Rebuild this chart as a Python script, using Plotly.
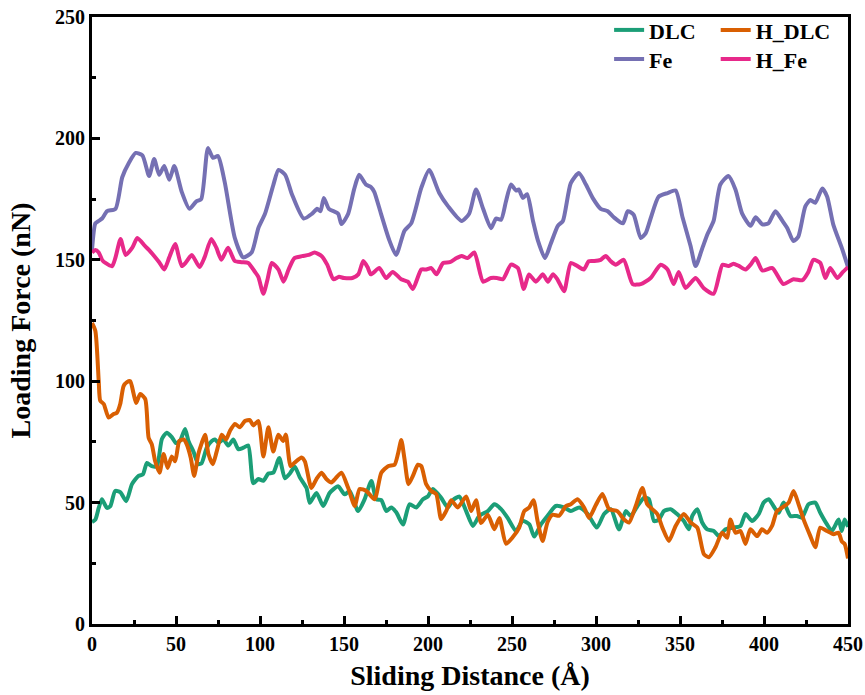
import plotly.graph_objects as go

# Loading force traces versus sliding distance for the four systems
dlc_x = [0, 2, 4, 5.9, 8.9, 10.9, 13.8, 16.8, 20.4, 23.8, 27.7, 30.3, 32.7, 35.6, 38.6, 41.6, 44.5, 47.5,
         50, 52.4, 55.4, 57.4, 60.4, 63.3, 65.3, 68.3, 71.3, 73.2, 75.2, 78.2, 81.2, 84.1, 87.1, 90.1, 93,
         96, 99, 102, 105, 107.9, 111.5, 114.8, 117.8, 120.7, 123.7, 127.7, 129.6, 133.6, 137.6, 141.5,
         146.5, 150.4, 153.4, 158.4, 162.3, 166.3, 169.2, 172.2, 175.2, 178.1, 181.1, 185.1, 189, 193, 197,
         199.9, 202.9, 207.8, 211.8, 214.8, 218.7, 222.7, 226.7, 230.6, 235.6, 239.5, 243.5, 247.4, 252.4,
         256.3, 260.3, 263.2, 267.2, 271.2, 276.1, 281, 285, 290, 295, 300.5, 304.8, 308.8, 313.7, 317.7,
         320.7, 324.6, 328.6, 331.5, 334.5, 337.5, 340.4, 344.4, 348.3, 352.3, 355.3, 357.3, 360.3, 363.2,
         366.2, 370.1, 373.1, 377.1, 382, 386, 389, 392.9, 396.9, 399.8, 402.8, 405.7, 408.7, 411.7, 415.7,
         419.6, 422.6, 426.5, 430.5, 433.5, 437.5, 440.4, 444.4, 446.3, 448, 450]
dlc_y = [42, 43, 47.8, 51.4, 47.8, 48.5, 54.8, 54.3, 50.6, 57.6, 61, 61.6, 66.3, 65, 65, 76.2, 78.8, 77,
         74.5, 75.4, 80.3, 75.4, 71, 65.8, 66.3, 72.6, 75.4, 76, 74.6, 76, 73.5, 76, 72, 72.6, 73.5,
         58, 59.7, 59, 62, 62.3, 68.4, 60, 62, 64.8, 60.4, 56, 49.9, 54, 48.6, 54,
         56.7, 53.4, 54.8, 46.5, 51.4, 58.9, 51.4, 51, 46.5, 48, 46, 41, 49.3, 48, 51.4,
         52.5, 55.6, 52, 48, 51, 52.5, 46.5, 40.4, 44.6, 46.5, 49.3, 47.3, 43.7, 38.3,
         42.5, 41, 36, 41, 44.6, 48.6, 48, 46.5, 48, 45.4, 39.7, 45.3, 47.3, 39, 46.5,
         44.5, 48.5, 52, 51.4, 42.4, 43, 46.5, 47.3, 45.3, 42.4, 39, 44.5, 47.3, 41.8,
         39, 38.3, 36.2, 39, 39.7, 40.4, 45.3, 42.4, 45.3, 50, 51.4, 48.5, 45.8, 50, 44.5,
         44.5, 43.8, 49.3, 50, 45.8, 41, 38.3, 43, 38.3, 43, 40]

hdlc_x = [0, 2, 4, 4.9, 7, 9.9, 12.9, 14.8, 16.8, 18.8, 20.8, 22.8, 24.7, 26.3, 28.7, 31.7, 33.7, 35.6,
          37.6, 40.2, 42.6, 45, 47.5, 49.5, 52, 54.5, 56.4, 58.8, 60.8, 63.3, 65.3, 67.3, 69.3, 71.9, 74.2,
          77.2, 79.8, 82.1, 85.1, 88, 91, 94, 96, 99, 102, 105, 107.9, 110.9, 113.8, 115.4, 118.2, 120.7,
          124.7, 126.7, 130.6, 133.6, 136.6, 139.5, 142.5, 145, 148.5, 152.4, 156.4, 159.3, 163.3, 168.2,
          172.2, 176.2, 180.1, 182.1, 184.1, 186, 188.4, 191, 194, 196, 198.9, 201.9, 204.9, 207.8, 210.8,
          213.8, 217.7, 222.7, 225.7, 228.6, 231.6, 235.6, 239.5, 242.5, 246.4, 250.4, 254.3, 257.3, 260.3,
          262.8, 265.2, 268.2, 271.2, 274.2, 278.1, 282.1, 285, 289, 292.9, 295.9, 299.9, 303.8, 307.8,
          312.7, 316.7, 319.7, 323.6, 327.6, 330.5, 333.5, 336.5, 339.5, 343.4, 347.4, 352.3, 356.3, 360.3,
          364.2, 367.2, 371.1, 375.1, 378.1, 380, 383, 386, 389, 391.9, 395.9, 398.8, 401.8, 404.8, 407.7,
          410.7, 414.7, 417.6, 420.6, 423.6, 427.6, 430.5, 433.5, 437.5, 441.4, 444.4, 446.3, 448, 450]
hdlc_y = [124, 120.7, 100, 92, 90.6, 85, 86.5, 87, 90.6, 98, 99.6, 100, 95, 91, 94.7, 92.6, 76.7, 74,
          67, 62.3, 70, 64.3, 69, 67, 75.4, 76, 74, 68.4, 61, 70, 74.5, 78, 70, 65.8, 71,
          78, 76, 79.5, 82.4, 81, 83.6, 84, 81.8, 83.6, 69, 81, 71, 78, 75.4, 78, 65, 66.5,
          68.6, 67, 56, 59.7, 62.3, 59.7, 58.3, 60, 62.3, 56.2, 48.6, 55.6, 54.8, 51.4,
          62.3, 65, 65.6, 70, 75.8, 68, 57.6, 61, 65.6, 65, 57.6, 54.8, 53.5, 43.2, 46.5,
          51, 48, 52.5, 46.5, 51, 41.6, 45, 39, 43.7, 33, 35.7, 39.7, 46.5, 48,
          51, 42.5, 34.2, 42, 45, 44.6, 48.6, 49.3, 51.4, 48, 43.7, 49, 53.5, 47.3,
          46.5, 43, 41.8, 48.5, 56, 49.3, 47.3, 45.3, 39.7, 34.2, 40.4, 45.3, 41.8, 39.7,
          28.8, 27.5, 31.6, 37.6, 35.5, 43, 37.6, 38.3, 33, 39, 36.2, 39, 37.6, 40.4, 46.5,
          47.9, 50, 54.8, 49.3, 43, 36.2, 31.6, 39.7, 38.3, 37, 37.6, 34, 33, 27]

fe_x = [0, 2, 4, 6, 9, 14, 18, 22, 26, 30, 34, 37, 40, 43, 46, 49, 53.4, 58, 62, 65, 69, 72, 75, 79, 85,
        90, 95, 99, 103, 108, 111, 115, 119, 126, 131, 134, 136, 138, 141, 146.5, 148.5, 152.5, 156, 159,
        163, 166, 168, 172, 177, 181, 186, 190, 196, 200.7, 206.7, 212, 220, 224.5, 228.6, 232.8, 237.5,
        240.5, 243.5, 246.4, 249.4, 252.4, 254, 256.5, 259, 262.5, 265.4, 269.6, 273, 277.3, 280.3, 285,
        289.8, 294, 298, 302.8, 307, 310.6, 316, 318.9, 322.4, 326.6, 329.6, 332.5, 337.3, 342.6, 347.4,
        351.5, 356.3, 359.3, 363.4, 366.4, 370, 374, 378.8, 383, 387, 392, 395, 399, 402.6, 406.8, 411,
        413.9, 417.5, 420.4, 424.6, 427.6, 430.5, 434.7, 437.6, 441.2, 446.5, 450]
fe_y = [154, 165, 166, 167, 170, 171, 184, 190, 194, 193, 184.5, 191.5, 185, 188.6, 183, 188.6, 178, 171,
        174, 175, 196, 192, 192.7, 182, 159, 151, 153, 163, 169, 181, 187, 185, 177, 167, 169, 171, 170,
        175.5, 171, 169, 164.7, 169, 179, 185, 181, 180, 178, 169, 158, 152, 162, 165, 179.6, 187, 177.5,
        172, 166, 169, 179, 171, 163, 167, 166.5, 174, 181, 178.5, 179, 175.5, 177, 166, 158, 150.7,
        156.5, 164, 166, 181.6, 185.7, 181, 175.5, 171, 170, 167.5, 165, 170, 168.6, 159, 161, 167, 176,
        177.5, 178.5, 167.5, 155.7, 147.4, 155, 160.6, 166, 181, 184.5, 179, 169, 164, 167.5, 164.6, 165,
        170, 166, 163, 157.7, 159.5, 172, 174.6, 173.5, 179.4, 176, 164.6, 154.5, 147]

hfe_x = [0, 2, 4, 6, 8, 12, 14, 17, 20, 24, 27, 31.5, 34, 37, 40, 43, 46, 49.5, 53.4, 56, 59.4, 64, 67,
         71, 74, 77, 81, 85, 89, 93, 97, 99, 102, 104.5, 107, 111, 114, 117, 120.5, 125, 129, 132.5,
         136.6, 140, 143.7, 147, 150, 155, 158.5, 161.5, 164, 166, 171, 175, 179, 184, 188, 191, 196, 199,
         202, 205, 209, 213, 217, 220, 223.6, 227.6, 232.8, 237.5, 241, 244.6, 249.4, 253.5, 257, 260.1,
         264.2, 268.4, 271.4, 274.3, 277, 281, 285, 289, 292.7, 295.7, 299, 302.8, 305.8, 308.8, 311.8,
         316.5, 321.8, 326.6, 332.5, 338.5, 342.6, 346.2, 349.2, 353.3, 359.3, 364, 370, 375.3, 378.8,
         381.8, 385, 389, 392, 395, 399, 405, 411.5, 417.5, 422.8, 426.4, 429.4, 433.5, 436.5, 439.4,
         443.6, 447, 450]
hfe_y = [153, 154, 153, 150, 148.7, 147.4, 151, 158.6, 152, 155, 159, 155.7, 154, 151.6, 149, 146, 151,
         156.5, 147.4, 149, 152, 147, 151, 158.6, 155, 150, 155, 149.5, 149, 148.7, 145, 143, 136, 142,
         148.7, 146, 141, 146, 150.7, 151.5, 152, 153, 151.6, 148, 142, 143, 142.5, 142.5, 144, 149.5,
         147, 144, 146.6, 142.5, 145, 142, 141, 138, 146, 146, 146.6, 144, 148.7, 149, 150.7, 151.6,
         150.7, 153, 141, 142.5, 142.5, 142, 148, 146.6, 138, 144, 141, 144, 141, 144, 142, 137, 148.7,
         147.4, 146, 149.4, 149.5, 150, 151.6, 149.4, 148, 150, 140, 140, 142.5, 148, 146, 140, 145,
         138.4, 142.5, 138.4, 136, 148, 147.4, 148.4, 147.5, 146, 148, 150.7, 145.6, 146.6, 140, 142,
         141.6, 145, 150, 148.7, 142.5, 146.6, 142.5, 145, 147]

x_ticks = [0, 50, 100, 150, 200, 250, 300, 350, 400, 450]
y_ticks = [0, 50, 100, 150, 200, 250]

# each series gets its own legend box so the entries sit on a 2x2 grid
series = [
    ("DLC", dlc_x, dlc_y, "#1b9e77", "legend"),
    ("H_DLC", hdlc_x, hdlc_y, "#d95f02", "legend2"),
    ("Fe", fe_x, fe_y, "#7570b3", "legend3"),
    ("H_Fe", hfe_x, hfe_y, "#e7298a", "legend4"),
]

FONT = "Liberation Serif, Times New Roman, serif"

fig = go.Figure()
for name, xs, ys, color, leg in series:
    fig.add_trace(go.Scatter(
        x=xs, y=ys, name=name, mode="lines",
        line=dict(color=color, width=4, shape="spline", smoothing=0.6),
        legend=leg,
    ))

axis_common = dict(
    showline=True, linewidth=3, linecolor="black", mirror=True,
    ticks="inside", ticklen=8, tickwidth=3, tickcolor="black",
    showgrid=False, zeroline=False,
    tickfont=dict(family=FONT, size=20, color="black", weight="bold"),
)

legend_common = dict(
    orientation="h", xanchor="left", yanchor="top",
    font=dict(family=FONT, size=22, color="black", weight="bold"),
    bgcolor="rgba(0,0,0,0)", borderwidth=0, itemwidth=30,
)

col1, col2 = 0.684, 0.825
row1, row2 = 1.013, 0.965

fig.update_layout(
    width=865, height=695,
    margin=dict(l=92, r=17, t=17, b=71, autoexpand=False),
    paper_bgcolor="white", plot_bgcolor="white",
    showlegend=True,
    legend=dict(x=col1, y=row1, **legend_common),
    legend2=dict(x=col2, y=row1, **legend_common),
    legend3=dict(x=col1, y=row2, **legend_common),
    legend4=dict(x=col2, y=row2, **legend_common),
    xaxis=dict(
        range=[0, 450], tickvals=x_ticks,
        minor=dict(dtick=25, ticks="inside", ticklen=4, tickwidth=3, tickcolor="black"),
        title=dict(text="Sliding Distance (Å)", standoff=12,
                   font=dict(family=FONT, size=28, color="black", weight="bold")),
        **axis_common,
    ),
    yaxis=dict(
        range=[0, 250], tickvals=y_ticks,
        minor=dict(dtick=25, ticks="inside", ticklen=4, tickwidth=3, tickcolor="black"),
        title=dict(text="Loading Force (nN)", standoff=17,
                   font=dict(family=FONT, size=28, color="black", weight="bold")),
        **axis_common,
    ),
)

fig.write_html("out.html")
